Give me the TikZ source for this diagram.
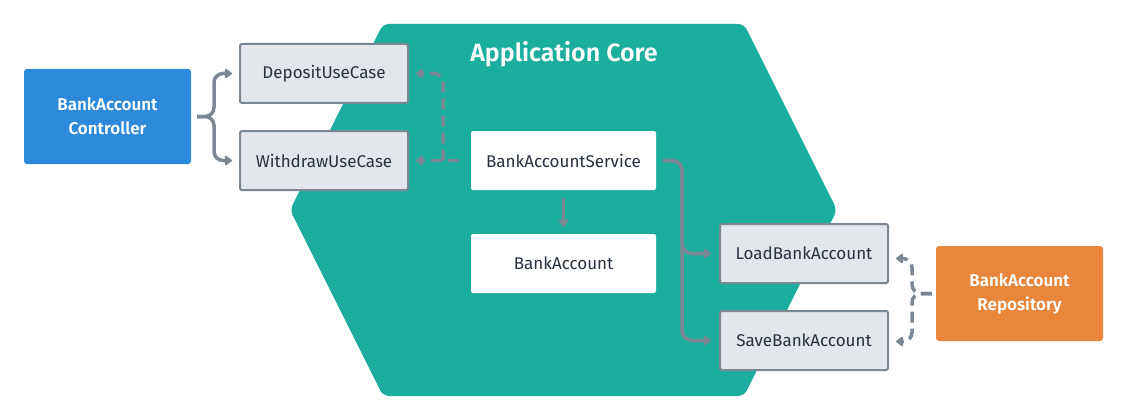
\documentclass[tikz,border=0pt]{standalone}
\usepackage{fontspec}
\setmainfont{Fira Sans}[BoldFont={Fira Sans SemiBold}]
\usetikzlibrary{arrows.meta}
\definecolor{coreteal}{HTML}{1BAE9F}
\definecolor{ctrlblue}{HTML}{2D89D9}
\definecolor{repoorange}{HTML}{E8863B}
\definecolor{portfill}{HTML}{E3E6EA}
\definecolor{portline}{HTML}{7B8793}
\definecolor{conncol}{HTML}{7B8794}
\definecolor{textdark}{HTML}{27313F}
\tikzset{
  portbox/.style={draw=portline, line width=2pt, fill=portfill, rounded corners=2pt,
    minimum width=168pt, minimum height=59pt, inner sep=0pt, text=textdark,
    font=\fontsize{17}{20}\selectfont},
  corebox/.style={fill=white, rounded corners=2pt, minimum width=185pt, minimum height=59pt,
    inner sep=0pt, text=textdark, font=\fontsize{17}{20}\selectfont},
  adapterbox/.style={rounded corners=3pt, minimum width=167pt, minimum height=95pt,
    inner sep=0pt, text=white, align=center, font=\bfseries\fontsize{17}{24}\selectfont},
  conn/.style={draw=conncol, line width=3.5pt, -{Triangle[length=8pt,width=11pt,round]}},
  dashconn/.style={conn, dash pattern=on 11pt off 6pt},
}
\begin{document}
\begin{tikzpicture}[x=1pt,y=-1pt]
\useasboundingbox (0,0) rectangle (1128,420);
\fill[white] (0,0) rectangle (1128,420);
% hexagon core
\fill[coreteal, rounded corners=6pt] (383,24) -- (744,24) -- (837,210) -- (744,396) -- (383,396) -- (290,210) -- cycle;
\node[text=white, font=\bfseries\fontsize{25}{28}\selectfont] (title) at (564,54) {Application Core};
% nodes
\node[adapterbox, fill=ctrlblue] (ctrl) at (107.5,116.5) {BankAccount\\Controller};
\node[adapterbox, fill=repoorange] (repo) at (1019.5,293.5) {BankAccount\\Repository};
\node[portbox] (dep) at (324,73.5) {DepositUseCase};
\node[portbox] (wd) at (324,160.5) {WithdrawUseCase};
\node[corebox] (svc) at (563.5,160.5) {BankAccountService};
\node[corebox] (acc) at (563.5,263.5) {BankAccount};
\node[portbox] (load) at (804,253.5) {LoadBankAccount};
\node[portbox] (save) at (804,340.5) {SaveBankAccount};
% junction coordinates
\coordinate (br) at (214,116.5);
\coordinate (dj) at (443,160.5);
\coordinate (sr) at (682,160.5);
\coordinate (rj) at (912,293.5);
% controller brace
\draw[conn, rounded corners=9pt] ([xshift=6pt]ctrl.east) -- (br) |- ([xshift=-7pt]dep.west);
\draw[conn, rounded corners=9pt] ([xshift=6pt]ctrl.east) -- (br) |- ([xshift=-7pt]wd.west);
% service implements use cases (dashed)
\draw[dashconn] ([xshift=-12pt]svc.west) -- ([xshift=7pt]wd.east);
\draw[dashconn, rounded corners=9pt] (dj) |- ([xshift=7pt]dep.east);
% service uses domain
\draw[conn] ([yshift=-8pt]svc.south) -- ([yshift=7pt]acc.north);
% service uses output ports
\draw[conn, rounded corners=10pt] ([xshift=7pt]svc.east) -- (sr) |- ([xshift=-8pt]load.west);
\draw[conn, rounded corners=10pt] ([xshift=7pt]svc.east) -- (sr) |- ([xshift=-8pt]save.west);
% repository implements output ports (dashed)
\draw[dashconn, rounded corners=9pt] ([xshift=-4pt]repo.west) -- (rj) |- ([xshift=7pt,yshift=-5pt]load.east);
\draw[dashconn, rounded corners=9pt] ([xshift=-4pt]repo.west) -- (rj) |- ([xshift=7pt,yshift=-1pt]save.east);
\end{tikzpicture}
\end{document}
